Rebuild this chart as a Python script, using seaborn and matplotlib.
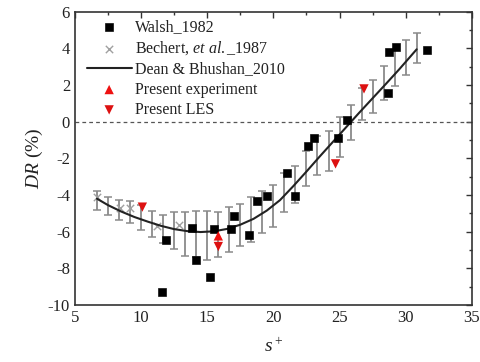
import matplotlib
matplotlib.use("Agg")
import matplotlib.pyplot as plt
from matplotlib.ticker import MultipleLocator
import seaborn as sns

# Walsh_1982 (black squares)
walsh_x = [11.55, 11.88, 13.87, 14.15, 15.2, 15.53, 16.77, 17.0, 18.15, 18.73, 19.49,
           21.0, 21.6, 22.62, 23.07, 24.9, 25.53, 28.68, 28.76, 29.24, 31.63]
walsh_y = [-9.27, -6.48, -5.81, -7.54, -8.49, -5.85, -5.86, -5.12, -6.17, -4.32, -4.08,
           -2.8, -4.04, -1.35, -0.89, -0.89, 0.07, 1.55, 3.81, 4.06, 3.9]

# Bechert et al._1987 (grey crosses, visible ones)
bech_mx = [6.69, 8.4, 9.2, 11.17, 12.9]
bech_my = [-4.12, -4.72, -4.72, -5.68, -5.63]

# Error bars (range low / high)
bar_x = [6.67, 7.5, 8.33, 9.17, 10.0, 10.83, 11.67, 12.5, 13.33, 14.17, 15.0, 15.83,
         16.67, 17.5, 18.33, 19.17, 20.0, 20.83, 21.67, 22.5, 23.33, 24.17, 25.0,
         25.83, 26.67, 27.5, 28.33, 29.17, 30.0, 30.83]
bar_lo = [-4.8, -5.08, -5.36, -5.54, -5.9, -6.27, -6.63, -6.96, -7.32, -7.36, -7.54, -7.36,
          -7.09, -6.78, -6.54, -6.09, -5.76, -4.9, -4.45, -3.53, -2.9, -2.7, -1.9,
          -0.98, 0.11, 0.47, 1.2, 1.93, 2.57, 3.2]
bar_hi = [-3.77, -4.12, -4.26, -4.35, -4.54, -4.85, -5.08, -4.94, -4.94, -4.85, -4.85, -4.9,
          -4.66, -4.5, -4.12, -3.8, -3.48, -2.8, -2.4, -1.62, -0.8, -0.53, 0.26,
          0.93, 1.84, 2.3, 3.02, 3.93, 4.48, 4.86]

# Dean & Bhushan_2010 (fit curve)
dean_x = [6.67, 7.5, 8.5, 9.5, 10.5, 11.5, 12.5, 13.5, 14.5, 15.5, 16.5, 17.5, 18.5,
          19.5, 20.5, 21.5, 22.5, 23.5, 24.5, 25.5, 26.5, 27.5, 28.5, 29.5, 30.83]
dean_y = [-4.2, -4.55, -4.9, -5.2, -5.45, -5.68, -5.86, -5.97, -6.02, -5.98, -5.85, -5.62,
          -5.3, -4.85, -4.28, -3.52, -2.72, -1.9, -1.1, -0.3, 0.5, 1.28, 2.06, 2.85, 3.95]

# Present experiment / LES
exp_x = [15.84]
exp_y = [-6.23]
les_x = [10.1, 15.84, 24.7, 26.85]
les_y = [-4.66, -6.81, -2.3, 1.79]

sns.set_theme(style="white")
plt.rcParams['font.family'] = ['Liberation Serif', 'DejaVu Serif']
plt.rcParams['mathtext.fontset'] = 'custom'
plt.rcParams['mathtext.it'] = 'Liberation Serif:italic'
plt.rcParams['mathtext.rm'] = 'Liberation Serif'
plt.rcParams['axes.unicode_minus'] = False

fig = plt.figure(figsize=(4.8, 3.62), dpi=100)
ax = fig.add_axes([0.156, 0.1575, 0.827, 0.81])

ax.axhline(0, color='#555555', lw=0.9, ls=(0, (3, 2.5)), zorder=1)

bar_c = [(h + l) / 2 for h, l in zip(bar_hi, bar_lo)]
bar_e = [(h - l) / 2 for h, l in zip(bar_hi, bar_lo)]
ax.errorbar(bar_x, bar_c, yerr=bar_e, fmt='none', ecolor='#8a8a8a', elinewidth=1.3,
            capsize=3, capthick=1.1, zorder=2)
sns.scatterplot(x=bech_mx, y=bech_my, marker='x', color='#a0a0a0', s=28, linewidth=1.0,
                ax=ax, label='Bechert, $\\it{et\\ al.}$_1987', zorder=3)

sns.lineplot(x=dean_x, y=dean_y, color='#222222', lw=1.5, ax=ax,
             label='Dean & Bhushan_2010', zorder=4, sort=True)

sns.scatterplot(x=walsh_x, y=walsh_y, marker='s', color='black', s=30, edgecolor='black',
                ax=ax, label='Walsh_1982', zorder=5)
sns.scatterplot(x=exp_x, y=exp_y, marker='^', color='#ee1111', s=45, edgecolor='none',
                ax=ax, label='Present experiment', zorder=6)
sns.scatterplot(x=les_x, y=les_y, marker='v', color='#dd1111', s=45, edgecolor='none',
                ax=ax, label='Present LES', zorder=6)

ax.set_xlim(5, 35)
ax.set_ylim(-10, 6)
ax.xaxis.set_major_locator(MultipleLocator(5))
ax.xaxis.set_minor_locator(MultipleLocator(2.5))
ax.yaxis.set_major_locator(MultipleLocator(2))
ax.yaxis.set_minor_locator(MultipleLocator(1))
ax.tick_params(which='both', direction='in', top=True, right=True, colors='#333333',
               labelcolor='#222222', labelsize=12)
ax.tick_params(which='major', length=4, width=1)
ax.tick_params(which='minor', length=2.5, width=1)
for sp in ax.spines.values():
    sp.set_color('#333333')
    sp.set_linewidth(1.2)

ax.set_xlabel('$s^+$', fontsize=14, color='#222222', labelpad=8)
ax.set_ylabel('$DR$ (%)', fontsize=14, color='#222222', labelpad=2)

h, l = ax.get_legend_handles_labels()
order = ['Walsh_1982', 'Bechert, $\\it{et\\ al.}$_1987', 'Dean & Bhushan_2010',
         'Present experiment', 'Present LES']
hd = dict(zip(l, h))
ax.legend([hd[k] for k in order], order, loc='upper left', bbox_to_anchor=(0.03, 0.975),
          frameon=False, fontsize=11.5, handlelength=2.8, handletextpad=0.2,
          labelspacing=0.27, borderpad=0, borderaxespad=0, labelcolor='#222222')

fig.savefig('out.png', dpi=100)
